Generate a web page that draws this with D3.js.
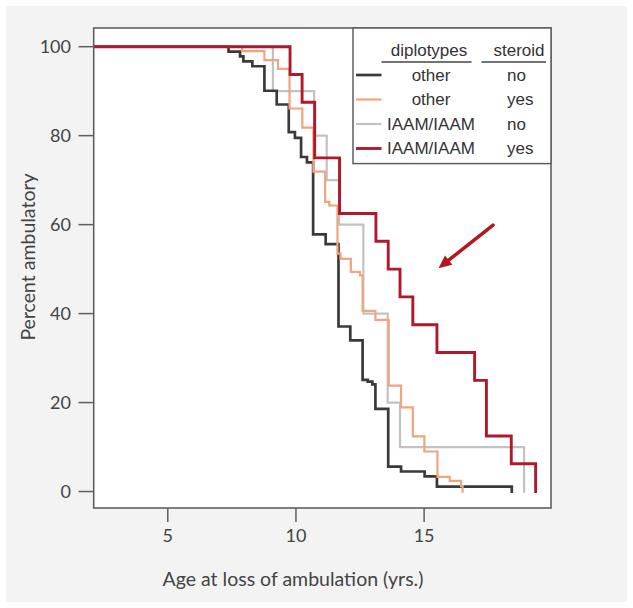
<!DOCTYPE html>
<html>
<head>
<meta charset="utf-8">
<script src="https://cdn.jsdelivr.net/npm/d3@7"></script>
<style>
  html, body { margin: 0; padding: 0; background: #ffffff; }
  svg { display: block; }
</style>
</head>
<body>
<svg id="chart" width="633" height="608"></svg>
<script>
// ---------------- data ----------------
const seriesNames = ["other|no", "other|yes", "IAAM/IAAM|no", "IAAM/IAAM|yes"];
const diplotypes = ["other", "other", "IAAM/IAAM", "IAAM/IAAM"];
const steroid = ["no", "yes", "no", "yes"];
const seriesColors = ["#3a3a3a", "#f0a47f", "#c2c2c2", "#b0192c"];

// Kaplan-Meier step times (age, yrs) and percent ambulatory after each step
const otherNoAges   = [7.37, 7.82, 7.95, 8.3, 8.77, 9.25, 9.72, 9.96, 10.2, 10.43, 10.67, 11.16, 11.66, 12.12, 12.6, 12.8, 12.98, 13.1, 13.6, 14.1, 15.02, 15.5, 18.42];
const otherNoPct    = [98.9, 97.8, 96.7, 95.6, 90.1, 87.0, 80.8, 79.5, 75.2, 74.0, 57.8, 55.6, 37.1, 34.0, 25.1, 24.7, 24.1, 18.6, 5.6, 4.5, 3.4, 1.1, 0];

const otherYesAges  = [7.9, 8.77, 9.3, 9.75, 10.25, 10.68, 11.14, 11.3, 11.62, 11.74, 12.14, 12.5, 12.6, 13.1, 13.62, 14.1, 14.56, 15.01, 15.52, 16.0, 16.44, 16.5];
const otherYesPct   = [99.0, 97.0, 95.0, 86.1, 81.8, 71.9, 65.1, 64.3, 53.5, 52.3, 49.4, 48.6, 40.6, 38.6, 23.8, 18.9, 12.4, 9.0, 3.3, 2.4, 1.2, 0];

const iaamNoAges    = [9.1, 10.71, 11.2, 11.68, 12.63, 13.58, 14.06, 18.9];
const iaamNoPct     = [90, 80, 70, 60, 40, 20, 10, 0];

const iaamYesAges   = [9.77, 10.24, 10.73, 11.7, 13.12, 13.6, 14.06, 14.56, 15.5, 16.97, 17.43, 18.4, 19.35];
const iaamYesPct    = [93.75, 87.5, 75, 62.5, 56.25, 50, 43.75, 37.5, 31.25, 25, 12.5, 6.25, 0];

const xTicks = [5, 10, 15];
const yTicks = [0, 20, 40, 60, 80, 100];
const xDomain = [2.11, 19.95];
const yDomain = [-3.7, 104.2];

const xTitle = "Age at loss of ambulation (yrs.)";
const yTitle = "Percent ambulatory";
const legendHeaders = ["diplotypes", "steroid"];

// arrow annotation in data coordinates: [fromAge, fromPct, toAge, toPct]
const arrowAnno = [17.69, 59.9, 15.56, 50.2];

// ---------------- drawing ----------------
const svg = d3.select("#chart");
const box = { left: 93.7, right: 551, top: 28, bottom: 508 };

svg.append("rect").attr("x", 6).attr("y", 6).attr("width", 621).attr("height", 596)
  .attr("fill", "#f3f3f3");

const x = d3.scaleLinear().domain(xDomain).range([box.left, box.right]);
const y = d3.scaleLinear().domain(yDomain).range([box.bottom, box.top]);

svg.append("rect").attr("x", box.left).attr("y", box.top)
  .attr("width", box.right - box.left).attr("height", box.bottom - box.top)
  .attr("fill", "#ffffff");

svg.append("clipPath").attr("id", "clip").append("rect")
  .attr("x", box.left).attr("y", box.top)
  .attr("width", box.right - box.left).attr("height", box.bottom - box.top);

const series = [
  { ages: otherNoAges, pct: otherNoPct },
  { ages: otherYesAges, pct: otherYesPct },
  { ages: iaamNoAges, pct: iaamNoPct },
  { ages: iaamYesAges, pct: iaamYesPct }
].map((s, i) => ({
  name: seriesNames[i],
  color: seriesColors[i],
  width: i === 3 ? 2.9 : (i === 0 ? 2.7 : 2.2),
  points: [[xDomain[0], 100]].concat(s.ages.map((a, j) => [a, s.pct[j]]))
}));

const line = d3.line().x(d => x(d[0])).y(d => y(d[1])).curve(d3.curveStepAfter);
const drawOrder = [2, 0, 1, 3];
const g = svg.append("g").attr("clip-path", "url(#clip)");
drawOrder.forEach(i => {
  g.append("path").datum(series[i].points)
    .attr("d", line)
    .attr("fill", "none")
    .attr("stroke", series[i].color)
    .attr("stroke-width", series[i].width)
    .attr("stroke-linejoin", "miter")
    .attr("stroke-linecap", "square");
});

// frame
svg.append("rect").attr("x", box.left).attr("y", box.top)
  .attr("width", box.right - box.left).attr("height", box.bottom - box.top)
  .attr("fill", "none").attr("stroke", "#5f5f5f").attr("stroke-width", 1.6);

// axes
const tickFont = "Lato, 'Open Sans', sans-serif";
const axisColor = "#5f5f5f";
const yAxis = svg.append("g");
yTicks.forEach(t => {
  yAxis.append("line").attr("x1", 78.5).attr("x2", box.left).attr("y1", y(t)).attr("y2", y(t))
    .attr("stroke", axisColor).attr("stroke-width", 1.5);
  yAxis.append("text").attr("x", 71).attr("y", y(t)).attr("dy", "0.35em")
    .attr("text-anchor", "end").attr("font-family", tickFont).attr("font-size", 18)
    .attr("fill", "#444").text(t);
});
const xAxis = svg.append("g");
xTicks.forEach(t => {
  xAxis.append("line").attr("x1", x(t)).attr("x2", x(t)).attr("y1", box.bottom).attr("y2", 522)
    .attr("stroke", axisColor).attr("stroke-width", 1.5);
  xAxis.append("text").attr("x", x(t)).attr("y", 535.5).attr("dy", "0.35em")
    .attr("text-anchor", "middle").attr("font-family", tickFont).attr("font-size", 18)
    .attr("fill", "#444").text(t);
});

svg.append("text").attr("x", 293).attr("y", 579).attr("dy", "0.35em")
  .attr("text-anchor", "middle").attr("font-family", tickFont).attr("font-size", 19.5)
  .attr("fill", "#444").text(xTitle);
svg.append("text").attr("transform", "translate(28,257) rotate(-90)").attr("dy", "0.35em")
  .attr("text-anchor", "middle").attr("font-family", tickFont).attr("font-size", 19.5)
  .attr("fill", "#444").text(yTitle);

// legend
const lg = svg.append("g");
const legFont = "'Liberation Sans', Arial, sans-serif";
lg.append("rect").attr("x", 353).attr("y", box.top).attr("width", box.right - 353).attr("height", 135.6)
  .attr("fill", "#ffffff").attr("stroke", "#5f5f5f").attr("stroke-width", 1.5);
lg.append("text").attr("x", 429).attr("y", 50).attr("dy", "0.35em").attr("text-anchor", "middle")
  .attr("font-family", legFont).attr("font-size", 17).attr("fill", "#333").text(legendHeaders[0]);
lg.append("text").attr("x", 519).attr("y", 50).attr("dy", "0.35em").attr("text-anchor", "middle")
  .attr("font-family", legFont).attr("font-size", 17).attr("fill", "#333").text(legendHeaders[1]);
lg.append("line").attr("x1", 381.5).attr("x2", 471.5).attr("y1", 62).attr("y2", 62)
  .attr("stroke", "#444").attr("stroke-width", 1.3);
lg.append("line").attr("x1", 481.5).attr("x2", 546).attr("y1", 62).attr("y2", 62)
  .attr("stroke", "#444").attr("stroke-width", 1.3);
series.forEach((s, i) => {
  const yy = 75 + i * 24.5;
  lg.append("line").attr("x1", 356).attr("x2", 381.5).attr("y1", yy).attr("y2", yy)
    .attr("stroke", s.color).attr("stroke-width", s.width);
  lg.append("text").attr("x", 431).attr("y", yy).attr("dy", "0.35em").attr("text-anchor", "middle")
    .attr("font-family", legFont).attr("font-size", 17).attr("fill", "#333").text(diplotypes[i]);
  lg.append("text").attr("x", 507).attr("y", yy).attr("dy", "0.35em").attr("text-anchor", "start")
    .attr("font-family", legFont).attr("font-size", 17).attr("fill", "#333").text(steroid[i]);
});

// arrow annotation
const ax1 = x(arrowAnno[0]), ay1 = y(arrowAnno[1]), ax2 = x(arrowAnno[2]), ay2 = y(arrowAnno[3]);
const ang = Math.atan2(ay2 - ay1, ax2 - ax1);
const headLen = 13, headW = 6;
const bx = ax2 - headLen * Math.cos(ang), by = ay2 - headLen * Math.sin(ang);
svg.append("line").attr("x1", ax1).attr("y1", ay1).attr("x2", bx).attr("y2", by)
  .attr("stroke", "#b0191e").attr("stroke-width", 3.5).attr("stroke-linecap", "round");
svg.append("path")
  .attr("d", `M${ax2},${ay2} L${bx + headW * Math.sin(ang)},${by - headW * Math.cos(ang)} L${bx - headW * Math.sin(ang)},${by + headW * Math.cos(ang)} Z`)
  .attr("fill", "#b0191e");
</script>
</body>
</html>
